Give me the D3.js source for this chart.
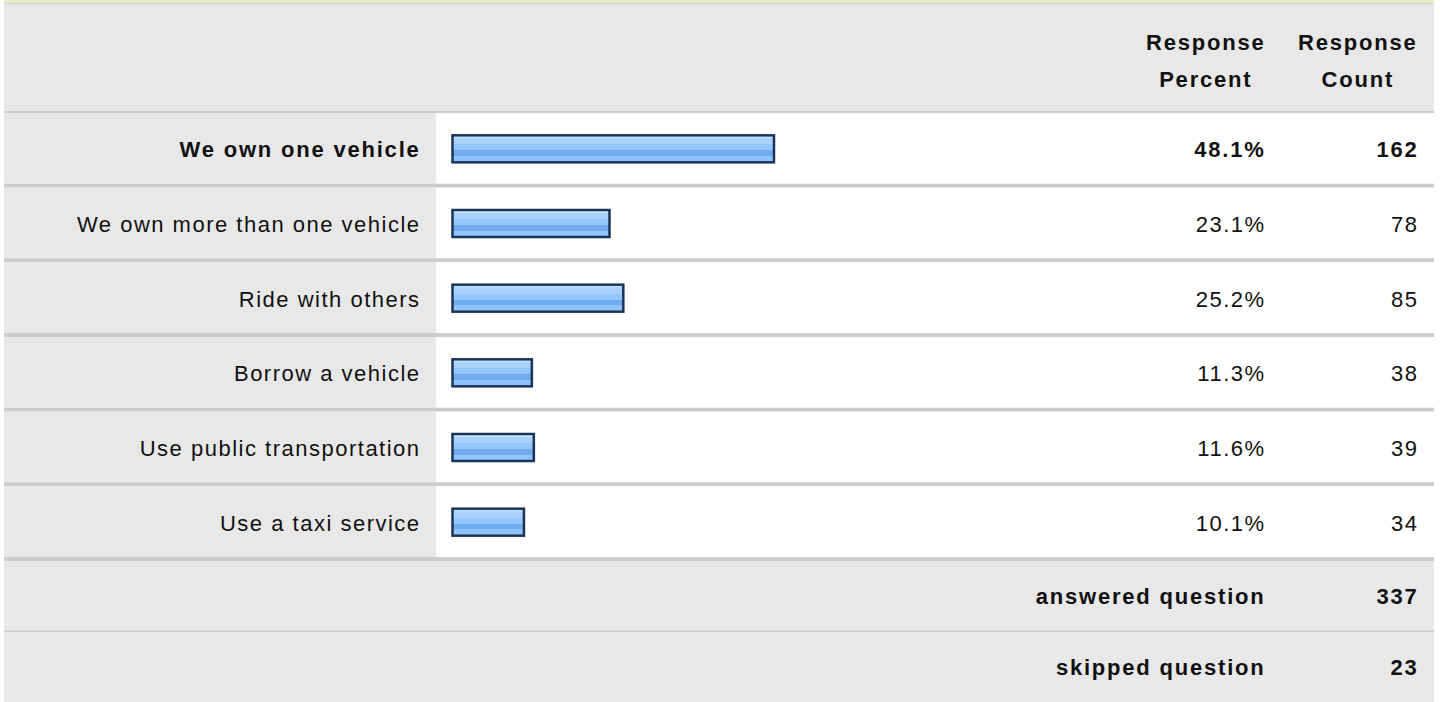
<!DOCTYPE html>
<html>
<head>
<meta charset="utf-8">
<script src="https://cdn.jsdelivr.net/npm/d3@7"></script>
<style>
  html, body { margin: 0; padding: 0; background: #fff; }
  svg text { font-family: "Liberation Sans", Arial, sans-serif; font-size: 22px; letter-spacing: 1.5px; fill: #111; }
  svg text.b { font-weight: bold; letter-spacing: 1.8px; }
</style>
</head>
<body>
<div id="chart"></div>
<script>
var categories = ["We own one vehicle", "We own more than one vehicle", "Ride with others",
                  "Borrow a vehicle", "Use public transportation", "Use a taxi service"]
var percents = [48.1, 23.1, 25.2, 11.3, 11.6, 10.1]
var counts = [162, 78, 85, 38, 39, 34]
var summaryLabels = ["answered question", "skipped question"]
var summaryCounts = [337, 23]
var headerLines = [["Response", "Percent"], ["Response", "Count"]]

var WIDTH = 1440, HEIGHT = 702
var LEFT = 4, RIGHT = 1434
var LABEL_COL = 436, BAR_X = 452.5
var LS = 1.6   // letter spacing, added back on right-aligned text
var LABEL_X = 419 + LS, PCT_X = 1264 + LS, CNT_X = 1417 + LS

var svg = d3.select("#chart").append("svg")
  .attr("width", WIDTH)
  .attr("height", HEIGHT)

// bar gradient, horizontal bands like the survey tool
var grad = svg.append("defs").append("linearGradient")
  .attr("id", "barfill")
  .attr("x1", 0).attr("y1", 0).attr("x2", 0).attr("y2", 1)
var stops = [[0, "#c9e3fd"], [0.1, "#c9e3fd"], [0.1, "#a8d1fc"], [0.33, "#a8d1fc"],
             [0.33, "#93c6fb"], [0.56, "#93c6fb"], [0.56, "#72aaee"], [0.77, "#72aaee"],
             [0.77, "#8fc4fa"], [0.95, "#8fc4fa"], [0.95, "#a6d1fc"], [1, "#a6d1fc"]]
stops.forEach(function(s){
  grad.append("stop").attr("offset", s[0]).attr("stop-color", s[1])
})

// top strip
svg.append("rect").attr("x", LEFT).attr("y", 0).attr("width", RIGHT - LEFT).attr("height", 3)
  .style("fill", "#e5ecc6")
svg.append("rect").attr("x", LEFT).attr("y", 3).attr("width", RIGHT - LEFT).attr("height", 1)
  .style("fill", "#d2d4cc")

// header
svg.append("rect").attr("x", LEFT).attr("y", 4).attr("width", RIGHT - LEFT).attr("height", 107)
  .style("fill", "#e8e8e8")
svg.append("rect").attr("x", LEFT).attr("y", 111).attr("width", RIGHT - LEFT).attr("height", 2)
  .style("fill", "#cccccc")

var headerX = [1205 + LS / 2, 1357 + LS / 2]
headerLines.forEach(function(lines, i){
  var t = svg.append("text")
    .attr("class", "b")
    .attr("text-anchor", "middle")
  lines.forEach(function(l, j){
    t.append("tspan").attr("x", headerX[i]).attr("y", 50 + j * 37).text(l)
  })
})

// rows
var y = d3.scaleBand()
  .domain(categories)
  .range([113, 561])

var x = d3.scaleLinear()
  .domain([0, 100])
  .range([0, 658])

var SEP = 4
var rows = svg.selectAll("g.row")
  .data(categories)
  .enter()
  .append("g")
  .attr("class", "row")
  .attr("transform", function(d){ return "translate(0," + y(d) + ")" })

rows.append("rect")
  .attr("x", LEFT).attr("y", 0)
  .attr("width", LABEL_COL - LEFT)
  .attr("height", y.bandwidth() - SEP)
  .style("fill", "#e8e8e8")

rows.append("rect")
  .attr("x", LABEL_COL).attr("y", 0)
  .attr("width", RIGHT - LABEL_COL)
  .attr("height", y.bandwidth() - SEP)
  .style("fill", "#ffffff")

rows.append("rect")
  .attr("x", LEFT).attr("y", y.bandwidth() - SEP)
  .attr("width", RIGHT - LEFT)
  .attr("height", SEP)
  .style("fill", "#cccccc")

var mid = (y.bandwidth() - SEP) / 2

rows.append("rect")
  .attr("x", BAR_X)
  .attr("y", mid - 13)
  .attr("width", function(d, i){ return x(percents[i]) + 5 })
  .attr("height", 27)
  .style("fill", "url(#barfill)")
  .style("stroke", "#1c3358")
  .style("stroke-width", 2.5)

// top answer is bold
var cls = function(d, i){ return i == 0 ? "b" : null }

rows.append("text")
  .attr("class", cls)
  .attr("x", LABEL_X)
  .attr("y", mid + 9)
  .attr("text-anchor", "end")
  .text(function(d){ return d })

rows.append("text")
  .attr("class", cls)
  .attr("x", PCT_X)
  .attr("y", mid + 9)
  .attr("text-anchor", "end")
  .text(function(d, i){ return percents[i].toFixed(1) + "%" })

rows.append("text")
  .attr("class", cls)
  .attr("x", CNT_X)
  .attr("y", mid + 9)
  .attr("text-anchor", "end")
  .text(function(d, i){ return counts[i] })

// answered / skipped
var ys = d3.scaleBand()
  .domain(summaryLabels)
  .range([561, 703])

var sums = svg.selectAll("g.sum")
  .data(summaryLabels)
  .enter()
  .append("g")
  .attr("class", "sum")
  .attr("transform", function(d){ return "translate(0," + ys(d) + ")" })

sums.append("rect")
  .attr("x", LEFT).attr("y", 0)
  .attr("width", RIGHT - LEFT)
  .attr("height", ys.bandwidth())
  .style("fill", "#e8e8e8")

sums.filter(function(d, i){ return i == 0 })
  .append("rect")
  .attr("x", LEFT).attr("y", ys.bandwidth() - 1.5)
  .attr("width", RIGHT - LEFT)
  .attr("height", 2)
  .style("fill", "#cdcdcd")

sums.append("text")
  .attr("class", "b")
  .attr("x", PCT_X)
  .attr("y", ys.bandwidth() / 2 + 7)
  .attr("text-anchor", "end")
  .text(function(d){ return d })

sums.append("text")
  .attr("class", "b")
  .attr("x", CNT_X)
  .attr("y", ys.bandwidth() / 2 + 7)
  .attr("text-anchor", "end")
  .text(function(d, i){ return summaryCounts[i] })
</script>
</body>
</html>
